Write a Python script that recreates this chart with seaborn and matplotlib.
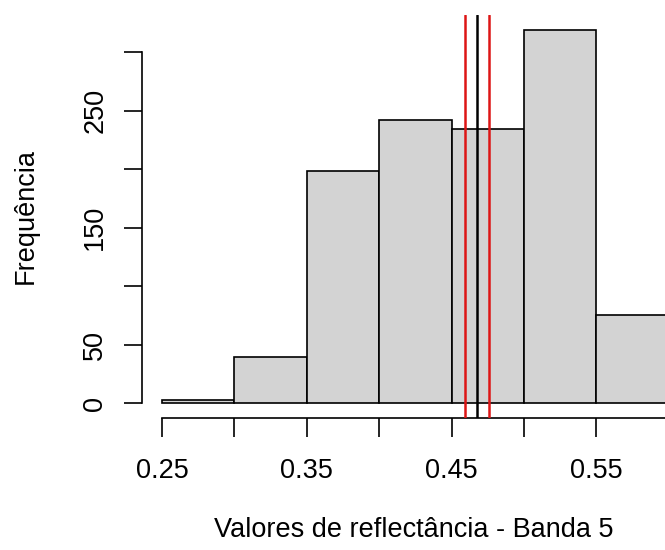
import numpy as np
import pandas as pd
import matplotlib
matplotlib.use("Agg")
import matplotlib.pyplot as plt
import seaborn as sns

# Data
bin_edges = [0.25, 0.30, 0.35, 0.40, 0.45, 0.50, 0.55, 0.60]
counts = [3, 39, 198, 242, 234, 319, 75]
mean_value = 0.4676
ci_low = 0.4592
ci_high = 0.4761
x_ticks = [0.25, 0.30, 0.35, 0.40, 0.45, 0.50, 0.55, 0.60]
x_tick_labels = ["0.25", "", "0.35", "", "0.45", "", "0.55", ""]
y_ticks = [0, 50, 100, 150, 200, 250, 300]
y_tick_labels = ["0", "50", "", "150", "", "250", ""]
x_label = "Valores de reflectância - Banda 5"
y_label = "Frequência"

centers = [(a + b) / 2 for a, b in zip(bin_edges[:-1], bin_edges[1:])]
df = pd.DataFrame({"valor": centers, "freq": counts})

sns.set_style("ticks")
plt.rcParams["font.family"] = ["Liberation Sans", "DejaVu Sans"]
plt.rcParams["font.size"] = 19.5
plt.rcParams["text.color"] = "black"
plt.rcParams["axes.labelcolor"] = "black"
plt.rcParams["xtick.color"] = "black"
plt.rcParams["ytick.color"] = "black"

W, H = 665, 550
fig = plt.figure(figsize=(W / 100, H / 100), dpi=100)
ax_l, ax_r, ax_t, ax_b = 141.7, 689.0, 15.0, 418.0
ax = fig.add_axes([ax_l / W, (H - ax_b) / H, (ax_r - ax_l) / W, (ax_b - ax_t) / H])

sns.histplot(data=df, x="valor", weights="freq", bins=bin_edges, ax=ax,
             color="#d3d3d3", edgecolor="black", linewidth=1.2, alpha=1)

ax.axvline(mean_value, color="black", lw=1.8, zorder=5)
ax.axvline(ci_low, color="#dd1515", lw=1.8, zorder=5)
ax.axvline(ci_high, color="#dd1515", lw=1.8, zorder=5)

ax.set_xlim(0.25 - 0.014, 0.60 + 0.014)
ax.set_ylim(-0.04 * 319, 319 * 1.04)

ax.set_xticks(x_ticks)
ax.set_xticklabels(x_tick_labels)
ax.set_yticks(y_ticks)
ax.set_yticklabels(y_tick_labels, rotation=90, va="center")

for s in ["top", "right"]:
    ax.spines[s].set_visible(False)
ax.spines["left"].set_bounds(0, 300)
ax.spines["bottom"].set_bounds(0.25, 0.60)
for s in ["left", "bottom"]:
    ax.spines[s].set_linewidth(1.2)
    ax.spines[s].set_color("black")

ax.tick_params(axis="x", length=13.5, width=1.2, pad=15, colors="black", labelsize=19.5)
ax.tick_params(axis="y", length=13.0, width=1.2, pad=11, colors="black", labelsize=19.5)
ax.set_xlabel("")
ax.set_ylabel("")
ax.grid(False)

fig.text(414 / W, 1 - 537 / H, x_label, ha="center", va="baseline", fontsize=19.5,
         color="black")
fig.text(33 / W, 1 - 216 / H, y_label, ha="center", va="baseline", rotation=90,
         rotation_mode="anchor", fontsize=19.5, color="black")

fig.savefig("out.png", dpi=100)
